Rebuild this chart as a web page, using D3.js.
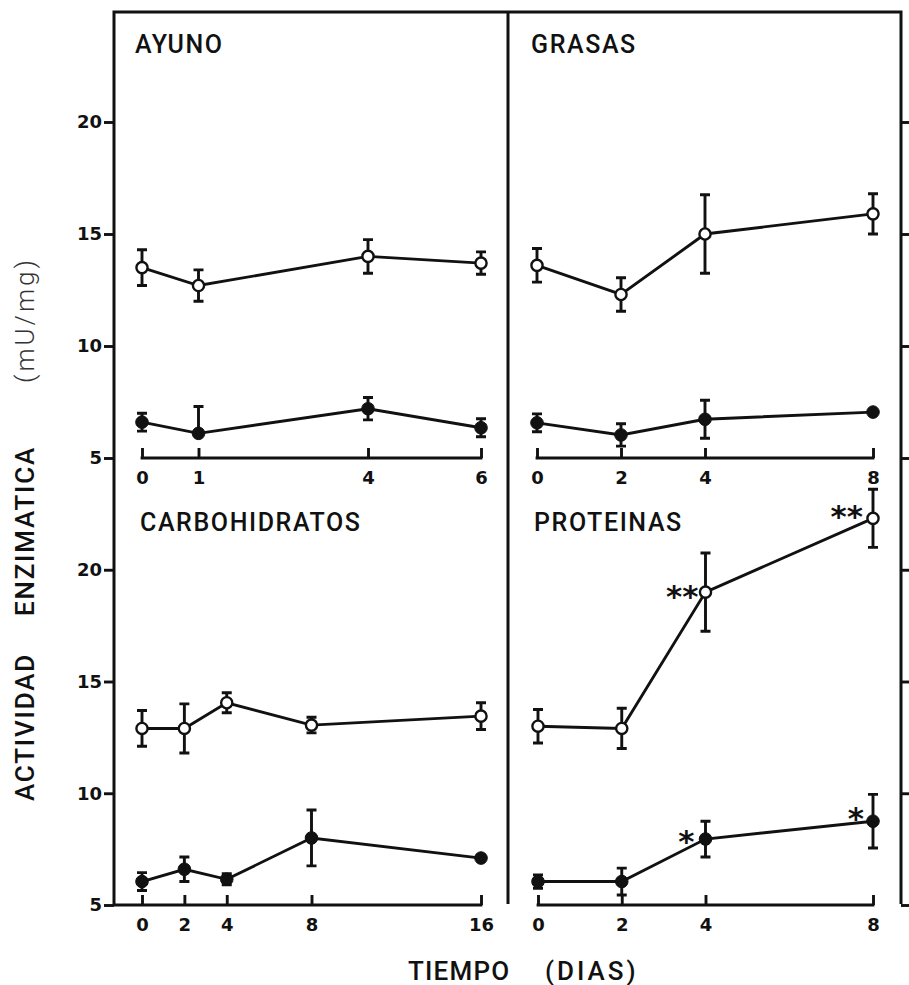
<!DOCTYPE html>
<html>
<head>
<meta charset="utf-8">
<script src="https://cdn.jsdelivr.net/npm/d3@7"></script>
<style>
  body { margin: 0; background: #fff; }
  svg { display: block; }
</style>
</head>
<body>
<svg id="chart"></svg>
<script>
// Datos (actividad en mU/mg, tiempo en dias)
const ayunoDays = [0, 1, 4, 6];
const ayunoOpen = [13.5, 12.7, 14.0, 13.7];
const ayunoOpenErr = [0.8, 0.7, 0.75, 0.5];
const ayunoFilled = [6.6, 6.1, 7.2, 6.35];
const ayunoFilledErr = [0.4, [1.2, 0], 0.5, 0.4];

const grasasDays = [0, 2, 4, 8];
const grasasOpen = [13.6, 12.3, 15.0, 15.9];
const grasasOpenErr = [0.75, 0.75, 1.75, 0.9];
const grasasFilled = [6.57, 6.03, 6.73, 7.05];
const grasasFilledErr = [0.4, 0.5, 0.85, 0];

const carboDays = [0, 2, 4, 8, 16];
const carboOpen = [12.9, 12.9, 14.05, 13.05, 13.45];
const carboOpenErr = [0.8, 1.1, 0.45, 0.35, 0.6];
const carboFilled = [6.05, 6.6, 6.15, 8.0, 7.1];
const carboFilledErr = [0.4, 0.55, 0.25, 1.25, 0];

const proteDays = [0, 2, 4, 8];
const proteOpen = [13.0, 12.9, 19.0, 22.3];
const proteOpenErr = [0.75, 0.9, 1.75, 1.3];
const proteFilled = [6.05, 6.05, 7.95, 8.75];
const proteFilledErr = [0.3, 0.6, 0.8, 1.2];

// asteriscos de significancia: [serie, dia, etiqueta]
const proteMarks = [["open", 4, "**"], ["open", 8, "**"], ["filled", 4, "*"], ["filled", 8, "*"]];
// desplazamiento de cada asterisco respecto a su punto (px)
const markOffsets = [[-8, -2], [-11, -8], [-12, -4], [-10, -9]];

const yTicks = [5, 10, 15, 20];

const width = 909, height = 985;
const svg = d3.select("#chart").attr("width", width).attr("height", height);

const frameLeft = 114, frameRight = 901, frameMid = 508, frameTop = 12;

const panels = [
  {title: "AYUNO", days: ayunoDays, open: ayunoOpen, openErr: ayunoOpenErr,
   filled: ayunoFilled, filledErr: ayunoFilledErr, xr: [142, 481], yr: [458, 10], tx: 135, ty: 53, marks: []},
  {title: "GRASAS", days: grasasDays, open: grasasOpen, openErr: grasasOpenErr,
   filled: grasasFilled, filledErr: grasasFilledErr, xr: [537, 873], yr: [458, 10], tx: 531, ty: 53, marks: []},
  {title: "CARBOHIDRATOS", days: carboDays, open: carboOpen, openErr: carboOpenErr,
   filled: carboFilled, filledErr: carboFilledErr, xr: [142, 481], yr: [905, 458], tx: 140, ty: 531, marks: [], axisFrom: frameLeft},
  {title: "PROTEINAS", days: proteDays, open: proteOpen, openErr: proteOpenErr,
   filled: proteFilled, filledErr: proteFilledErr, xr: [538, 873], yr: [905, 458], tx: 534, ty: 531, marks: proteMarks}
];

const ink = "#111";
const sw = 2.9;
const labelFont = "500 25px Roboto, 'Liberation Sans'";

// marco exterior y division central
svg.append("path")
  .attr("d", `M${frameLeft},906 V${frameTop} H${frameRight} V904 M${frameMid},${frameTop} V904`)
  .attr("fill", "none").attr("stroke", ink).attr("stroke-width", 3);

// ejes Y izquierdo y derecho de cada fila
[[458, 10], [905, 458]].forEach(yr => {
  const y = d3.scaleLinear().domain([5, 25]).range(yr);
  svg.append("g")
    .attr("transform", `translate(${frameLeft},0)`)
    .call(d3.axisLeft(y).tickValues(yTicks).tickSize(10).tickPadding(2).tickFormat(d3.format("d")))
    .call(g => g.select(".domain").remove())
    .call(g => g.selectAll("line").attr("stroke", ink).attr("stroke-width", sw))
    .call(g => g.selectAll("text").attr("fill", ink)
      .style("font", "bold 18px 'DejaVu Sans'"));
  svg.append("g")
    .attr("transform", `translate(${frameRight},0)`)
    .call(d3.axisRight(y).tickValues(yTicks).tickSize(8).tickFormat(""))
    .call(g => g.select(".domain").remove())
    .call(g => g.selectAll("line").attr("stroke", ink).attr("stroke-width", sw));
});

function drawPanel(p) {
  const g = svg.append("g");
  const x = d3.scaleLinear().domain([0, d3.max(p.days)]).range(p.xr);
  const y = d3.scaleLinear().domain([5, 25]).range(p.yr);
  const y0 = y(5);
  const lastDay = d3.max(p.days);

  // eje X propio del panel
  const ax = g.append("g")
    .attr("transform", `translate(0,${y0})`)
    .call(d3.axisBottom(x).tickValues(p.days).tickSize(-10).tickPadding(13).tickFormat(d3.format("d")));
  ax.select(".domain").remove();
  ax.selectAll("line").attr("stroke", ink).attr("stroke-width", sw);
  ax.selectAll("text").attr("fill", ink).style("font", "bold 18px 'DejaVu Sans'");
  ax.append("line")
    .attr("x1", p.axisFrom || x(0) - 1.4).attr("x2", x(lastDay) + 1.4)
    .attr("stroke", ink).attr("stroke-width", 3);

  g.append("text")
    .attr("x", p.tx).attr("y", p.ty)
    .attr("fill", ink)
    .style("font", labelFont)
    .style("letter-spacing", "1.6px")
    .text(p.title);

  const line = d3.line().x((d, i) => x(p.days[i])).y(d => y(d));

  [["filled", p.filled, p.filledErr], ["open", p.open, p.openErr]].forEach(([kind, vals, errs]) => {
    g.append("path")
      .attr("d", line(vals))
      .attr("fill", "none").attr("stroke", ink).attr("stroke-width", sw);

    vals.forEach((v, i) => {
      const e = errs[i];
      const up = Array.isArray(e) ? e[0] : e;
      const dn = Array.isArray(e) ? e[1] : e;
      const cx = x(p.days[i]);
      const bar = [];
      if (up > 0) bar.push(`M${cx},${y(v)} V${y(v + up)} M${cx - 5},${y(v + up)} H${cx + 5}`);
      if (dn > 0) bar.push(`M${cx},${y(v)} V${y(v - dn)} M${cx - 5},${y(v - dn)} H${cx + 5}`);
      if (bar.length) {
        g.append("path").attr("d", bar.join(" "))
          .attr("fill", "none").attr("stroke", ink).attr("stroke-width", sw);
      }
      g.append("circle")
        .attr("cx", cx).attr("cy", y(v))
        .attr("r", kind === "open" ? 5.6 : 6.3)
        .attr("fill", kind === "open" ? "#fff" : ink)
        .attr("stroke", ink).attr("stroke-width", kind === "open" ? 2.4 : 1);
    });
  });

  // asteriscos
  p.marks.forEach(([kind, day, label], k) => {
    const i = p.days.indexOf(day);
    const v = kind === "open" ? p.open[i] : p.filled[i];
    const [dx, dy] = markOffsets[k];
    g.append("text")
      .attr("x", x(day) + dx + 1)
      .attr("y", y(v) + dy + 16.5)
      .attr("text-anchor", "end")
      .attr("fill", ink)
      .style("font", "bold 31px 'DejaVu Sans'")
      .text(label);
  });
}

panels.forEach(drawPanel);

// titulos de ejes
const yTitle = [["ACTIVIDAD", 727, "500"], ["ENZIMATICA", 531, "500"], ["(mU/mg)", 320, "300"]];
yTitle.forEach(([txt, cy, w]) => {
  svg.append("text")
    .attr("transform", `translate(34,${cy}) rotate(-90)`)
    .attr("text-anchor", "middle")
    .attr("fill", w === "300" ? "#333" : ink)
    .style("font", `${w} 26px Roboto, 'Liberation Sans'`)
    .style("letter-spacing", w === "300" ? "3px" : "1.8px")
    .text(txt);
});

svg.append("text")
  .attr("x", 408).attr("y", 980)
  .attr("fill", ink)
  .style("font", "500 26px Roboto, 'Liberation Sans'")
  .style("letter-spacing", "1.2px")
  .text("TIEMPO");
svg.append("text")
  .attr("x", 545).attr("y", 980)
  .attr("fill", ink)
  .style("font", "500 26px Roboto, 'Liberation Sans'")
  .style("letter-spacing", "3px")
  .text("(DIAS)");
</script>
</body>
</html>
